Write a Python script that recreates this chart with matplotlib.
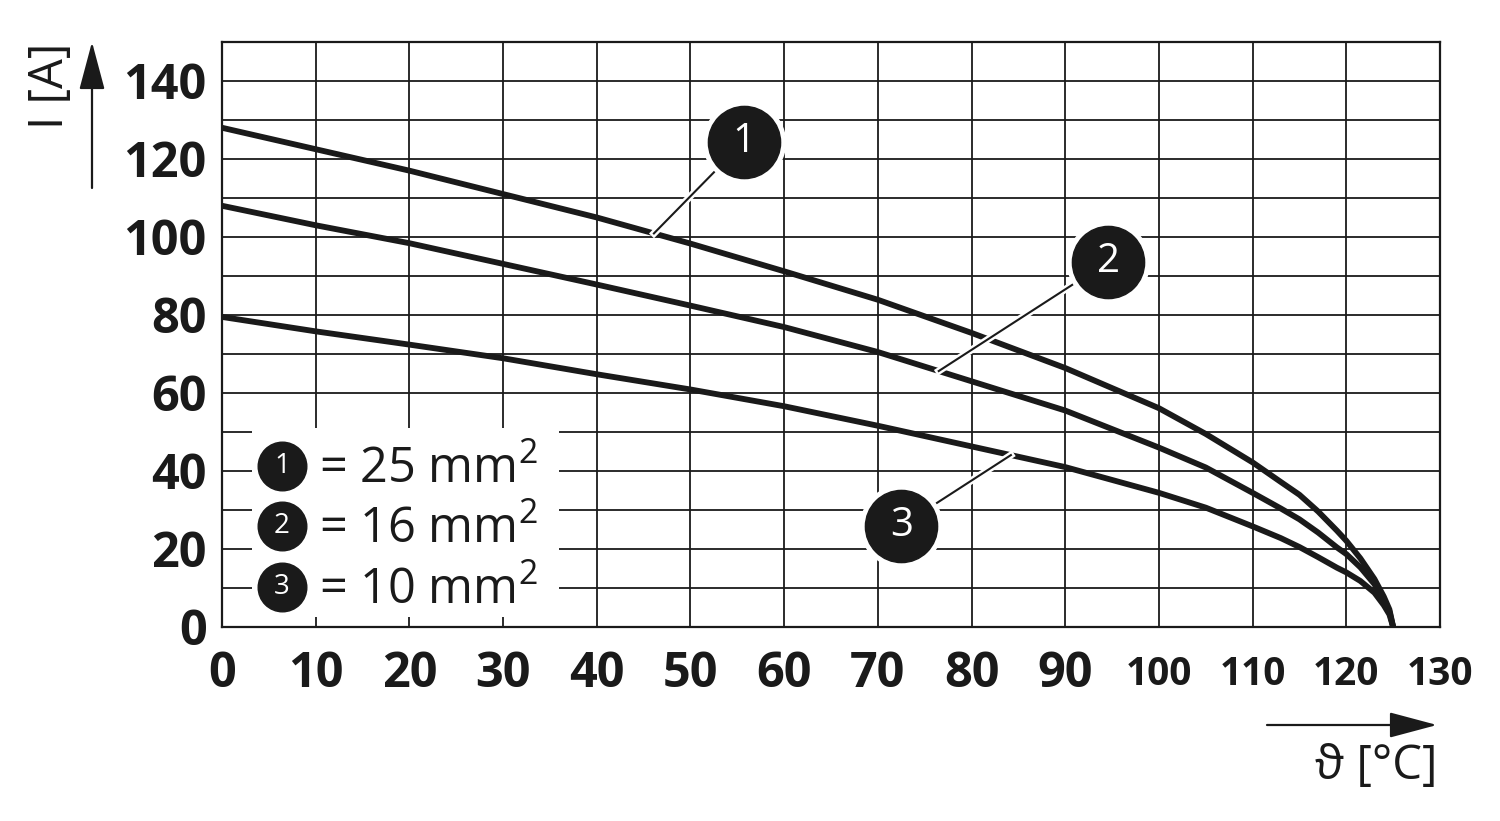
import numpy as np
import matplotlib
matplotlib.use("Agg")
import matplotlib.pyplot as plt
from matplotlib import patheffects as pe
from matplotlib.patches import Rectangle

# --- data ------------------------------------------------------------------
temp = [0, 10, 20, 30, 40, 50, 60, 70, 80, 90, 100, 105, 110, 113, 115, 117, 119,
        120, 121.5, 123, 124, 124.6, 125]
i_25 = [128, 122.5, 117, 111, 105, 98.3, 91.2, 83.9, 75.4, 66.4, 56.1, 49.5, 42.2,
        37.2, 33.9, 29.6, 24.7, 22.1, 17.6, 12.3, 7.8, 4.5, 0]
i_16 = [108, 103, 98.4, 93.1, 87.8, 82.4, 76.9, 70.5, 63.0, 55.5, 46.0, 40.9, 34.4,
        30.4, 27.6, 24.2, 20.4, 18.7, 15.3, 11.0, 6.8, 4.0, 0]
i_10 = [79.5, 75.8, 72.4, 68.9, 64.8, 60.9, 56.6, 51.6, 46.3, 41.0, 34.4, 30.6, 25.8,
        22.8, 20.5, 17.9, 15.2, 14.0, 11.8, 8.8, 5.6, 3.2, 0]

curve_ids = ["1", "2", "3"]
sections = ["25", "16", "10"]
x_ticks = list(range(0, 140, 10))
y_ticks = list(range(0, 150, 10))

# callouts: where the leader touches each curve, and where the badge sits
leader_temp = [46.1, 76.5, 84.2]
badge_pos = [(55.7, 124.4), (94.6, 93.7), (72.5, 25.9)]

INK = "#1a1a1a"
plt.rcParams["font.family"] = ["Open Sans", "DejaVu Sans"]
plt.rcParams["mathtext.fontset"] = "custom"
plt.rcParams["mathtext.rm"] = "Open Sans"

fig = plt.figure(figsize=(15, 8.21), dpi=100)
ax = fig.add_axes([0.148, 0.2363, 0.812, 0.7126])
ax.set_xlim(0, 130)
ax.set_ylim(0, 150)

# grid
ax.set_xticks(x_ticks)
ax.set_yticks(y_ticks)
ax.set_xticklabels([str(t) for t in x_ticks])
ax.set_yticklabels([str(t) if t % 20 == 0 else "" for t in y_ticks])
ax.grid(True, color=INK, lw=1.3, zorder=1)
ax.set_axisbelow(True)
for s in ax.spines.values():
    s.set_color(INK)
    s.set_linewidth(1.6)
ax.tick_params(length=0, colors=INK)
ax.tick_params(axis="y", pad=11, labelsize=35)
ax.tick_params(axis="x", pad=34, labelsize=35)
for lbl in ax.get_xticklabels() + ax.get_yticklabels():
    lbl.set_fontweight("bold")
for lbl in ax.get_xticklabels():
    lbl.set_va("center")
    if len(lbl.get_text()) == 3:
        lbl.set_fontsize(28)

# curves
series = [i_25, i_16, i_10]
for ys in series:
    ax.plot(temp, ys, color=INK, lw=4.2, solid_capstyle="round",
            solid_joinstyle="round", zorder=3)

# callouts with leaders
halo = [pe.withStroke(linewidth=5, foreground="white")]
for cid, ys, lt, (bx, by) in zip(curve_ids, series, leader_temp, badge_pos):
    ly = np.interp(lt, temp, ys)
    ax.plot([lt, bx], [ly, by], color=INK, lw=1.5, zorder=4, path_effects=halo)
    ax.plot(bx, by, "o", ms=59, color="white", zorder=5)
    ax.plot(bx, by, "o", ms=52, color=INK, zorder=6)
    ax.text(bx, by, cid, color="white", fontsize=29, ha="center", va="center", zorder=7)

# legend box
ax.add_patch(Rectangle((3.2, 2.5), 32.8, 48.5, facecolor="white", edgecolor="none", zorder=2))
legend_rows = [41.2, 25.9, 10.3]
for cid, sec, ry in zip(curve_ids, sections, legend_rows):
    ax.plot(6.4, ry, "o", ms=35, color=INK, zorder=5)
    ax.text(6.4, ry, cid, color="white", fontsize=20, ha="center", va="center", zorder=6)
    ax.text(10.4, ry - 4.3, f"= {sec} mm$^{{2}}$", color=INK, fontsize=35,
            ha="left", va="baseline", zorder=6)

# axis arrows and labels (figure pixel coords)
arrow = dict(arrowstyle="-|>,head_length=1.5,head_width=0.4", mutation_scale=20,
             lw=1.6, color=INK, shrinkA=0, shrinkB=0)
ax.annotate("", xy=(92, 779), xytext=(92, 633), xycoords="figure pixels",
            textcoords="figure pixels", arrowprops=arrow)
ax.annotate("", xy=(1437, 96), xytext=(1267, 96), xycoords="figure pixels",
            textcoords="figure pixels", arrowprops=arrow)
fig.text(50 / 1500, 1 - 86 / 821, "I [A]", rotation=90, fontsize=34, color=INK,
         ha="center", va="center")
fig.text(1437 / 1500, 1 - 766 / 821, "ϑ [°C]", fontsize=34, color=INK,
         ha="right", va="center")

fig.savefig("out.png", dpi=100, facecolor="white")
